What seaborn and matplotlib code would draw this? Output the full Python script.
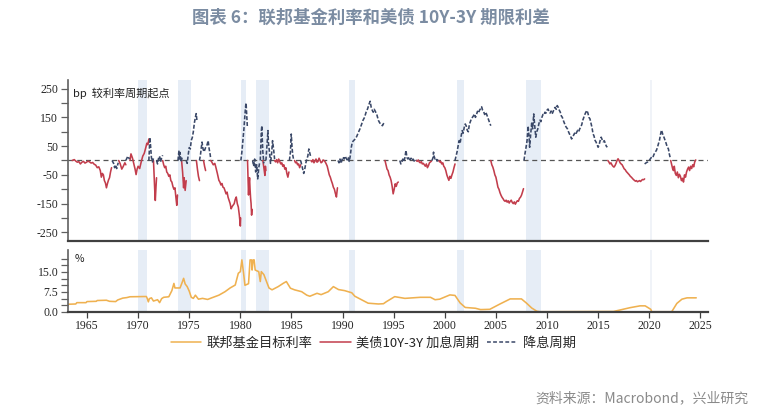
import pandas as pd
import matplotlib
matplotlib.use("Agg")
import matplotlib.pyplot as plt
from matplotlib.lines import Line2D
import seaborn as sns

# 美债10Y-3Y 利差, 相对每个利率周期起点 (bp); 每段为 (年份, bp)
hike_1963 = [(1963.55, 0), (1963.75, 3), (1963.9, -2), (1964.05, -6), (1964.2, -4), (1964.35, -12),
             (1964.5, -6), (1964.65, -3), (1964.8, -9), (1964.95, -6), (1965.1, -2), (1965.25, -5),
             (1965.4, -9), (1965.55, -7), (1965.7, -13), (1965.85, -16), (1966.0, -25), (1966.15, -22),
             (1966.3, -35), (1966.4, -58), (1966.5, -45), (1966.6, -50), (1966.7, -70), (1966.8, -78),
             (1966.9, -95), (1967.0, -80), (1967.1, -68), (1967.2, -60), (1967.3, -40), (1967.4, -25)]
hike_1968 = [(1968.1, 0), (1968.25, -12), (1968.4, -30), (1968.55, -20), (1968.7, -8), (1968.8, -15)]
hike_1969 = [(1969.2, 0), (1969.3, 23), (1969.45, 8), (1969.6, -15), (1969.7, -30), (1969.8, -49),
             (1969.9, -30), (1970.0, -20), (1970.15, -28), (1970.3, -5), (1970.45, 15), (1970.6, 25),
             (1970.75, 45), (1970.85, 60), (1970.95, 55), (1971.05, 75)]
hike_1971 = [(1971.5, 0), (1971.55, -40), (1971.62, -100), (1971.68, -139), (1971.75, -90), (1971.8, -60)]
hike_1972 = [(1972.4, 0), (1972.5, -15), (1972.6, -25), (1972.7, -20), (1972.8, -40), (1972.9, -45),
             (1973.0, -55), (1973.1, -50), (1973.2, -70), (1973.3, -75), (1973.4, -90), (1973.5, -100),
             (1973.6, -95), (1973.7, -130), (1973.78, -156), (1973.85, -120)]
hike_1974 = [(1974.25, 0), (1974.35, -40), (1974.45, -95), (1974.5, -60), (1974.6, -104), (1974.7, -70)]
hike_1975 = [(1975.7, 0), (1975.8, -30), (1975.9, -55), (1976.0, -70)]
hike_1976 = [(1976.4, 0), (1976.5, -20), (1976.6, -35)]
hike_1977 = [(1977.1, 0), (1977.2, -5), (1977.35, -15), (1977.5, -10), (1977.6, -23), (1977.75, -45),
             (1977.9, -69), (1978.0, -75), (1978.1, -85), (1978.2, -80), (1978.3, -93), (1978.4, -95),
             (1978.5, -105), (1978.6, -116), (1978.7, -110), (1978.8, -128), (1978.9, -139), (1979.0, -150),
             (1979.1, -168), (1979.2, -160), (1979.3, -155), (1979.4, -150), (1979.5, -135), (1979.6, -127),
             (1979.7, -150), (1979.8, -162), (1979.9, -190), (1980.0, -228), (1980.03, -200)]
hike_1980 = [(1980.7, 0), (1980.75, -60), (1980.8, -120), (1980.85, -80), (1980.9, -60), (1980.95, -100),
             (1981.0, -130), (1981.05, -150), (1981.1, -190), (1981.15, -170)]
hike_1982 = [(1982.2, 0), (1982.3, -25), (1982.4, -52), (1982.45, -20), (1982.5, -35)]
hike_1983 = [(1983.35, 0), (1983.45, -5), (1983.55, 3), (1983.65, -8), (1983.75, 5), (1983.85, -3),
             (1983.95, -12), (1984.05, -8), (1984.15, -20), (1984.25, -15), (1984.35, -30), (1984.45, -25),
             (1984.55, -45), (1984.65, -58), (1984.75, -40)]
hike_1985 = [(1985.3, 0), (1985.4, -8), (1985.5, -5), (1985.6, -15), (1985.7, -12), (1985.8, -25), (1985.9, -15)]
hike_1986 = [(1986.9, 0), (1987.0, -5), (1987.1, 3), (1987.2, -8), (1987.3, -2), (1987.4, 5), (1987.5, -6),
             (1987.6, -3), (1987.7, 8), (1987.8, 0), (1987.9, -8), (1988.0, -5), (1988.1, 2)]
hike_1988 = [(1988.2, 0), (1988.3, -5), (1988.4, -12), (1988.5, -20), (1988.6, -35), (1988.7, -50),
             (1988.8, -58), (1988.9, -70), (1989.0, -80), (1989.1, -93), (1989.2, -100), (1989.3, -115),
             (1989.4, -127), (1989.45, -110), (1989.5, -95)]
hike_1994 = [(1994.15, 0), (1994.25, -15), (1994.35, -30), (1994.45, -35), (1994.55, -50), (1994.65, -58),
             (1994.75, -70), (1994.85, -90), (1994.95, -116), (1995.05, -100), (1995.15, -81), (1995.25, -90),
             (1995.35, -78), (1995.45, -75)]
hike_1997 = [(1997.2, 0), (1997.3, -3), (1997.4, 2), (1997.5, -5), (1997.6, -8), (1997.7, -4), (1997.8, -12),
             (1997.9, -10), (1998.0, -15), (1998.1, -20), (1998.2, -12), (1998.3, -25), (1998.4, -18),
             (1998.5, -8), (1998.6, -5), (1998.7, -2)]
hike_1999 = [(1999.4, 0), (1999.5, -5), (1999.6, -3), (1999.7, -12), (1999.8, -8), (1999.9, -20),
             (2000.0, -25), (2000.1, -35), (2000.2, -50), (2000.3, -60), (2000.4, -69), (2000.5, -55),
             (2000.6, -62), (2000.7, -50), (2000.8, -40), (2000.9, -25), (2001.0, -12)]
hike_2004 = [(2004.5, 0), (2004.6, -15), (2004.7, -23), (2004.8, -35), (2004.9, -50), (2005.0, -58),
             (2005.1, -75), (2005.2, -93), (2005.3, -100), (2005.4, -112), (2005.5, -121), (2005.6, -128),
             (2005.7, -133), (2005.8, -139), (2005.9, -142), (2006.0, -138), (2006.1, -145), (2006.2, -140),
             (2006.3, -148), (2006.4, -142), (2006.5, -138), (2006.6, -146), (2006.7, -150), (2006.8, -144),
             (2006.9, -152), (2007.0, -145), (2007.1, -140), (2007.2, -142), (2007.3, -132), (2007.4, -128),
             (2007.5, -121), (2007.6, -110), (2007.7, -98)]
hike_2015 = [(2015.95, 0), (2016.05, -5), (2016.15, -12), (2016.25, -8), (2016.35, -15), (2016.45, -20),
             (2016.55, -23), (2016.65, -18), (2016.75, -10), (2016.85, 0), (2016.95, 6), (2017.05, 0),
             (2017.15, -8), (2017.25, -12), (2017.35, -15), (2017.45, -22), (2017.55, -29), (2017.65, -32),
             (2017.75, -38), (2017.85, -42), (2017.95, -46), (2018.05, -50), (2018.15, -55), (2018.25, -58),
             (2018.35, -62), (2018.45, -66), (2018.55, -69), (2018.65, -72), (2018.75, -70), (2018.85, -74),
             (2018.95, -72), (2019.05, -70), (2019.15, -73), (2019.25, -69), (2019.35, -66), (2019.45, -67),
             (2019.55, -64)]
hike_2022 = [(2022.1, 0), (2022.2, -15), (2022.3, -30), (2022.37, -35), (2022.45, -20), (2022.55, -45),
             (2022.65, -52), (2022.75, -40), (2022.85, -60), (2022.95, -48), (2023.05, -55), (2023.15, -70),
             (2023.25, -62), (2023.35, -75), (2023.45, -50), (2023.55, -58), (2023.65, -40), (2023.75, -30),
             (2023.85, -23), (2023.95, -35), (2024.05, -20), (2024.15, -28), (2024.25, -15), (2024.35, -22),
             (2024.45, -5), (2024.55, 2)]

cut_1967 = [(1967.45, 0), (1967.6, -10), (1967.7, -25), (1967.8, -15), (1967.9, -28), (1968.05, -8)]
cut_1968 = [(1968.8, 0), (1968.9, 8), (1969.0, 15), (1969.15, 5)]
cut_1971a = [(1971.05, 0), (1971.1, 40), (1971.15, 80), (1971.22, 50), (1971.3, 10), (1971.4, -5), (1971.5, 8)]
cut_1971b = [(1971.8, 0), (1971.9, -12), (1972.0, 8), (1972.1, 15), (1972.2, -5), (1972.3, 10), (1972.4, 18)]
cut_1973 = [(1973.9, 0), (1973.95, 20), (1974.0, 35), (1974.05, 5), (1974.1, 28), (1974.2, -5), (1974.3, 10)]
cut_1974 = [(1974.7, 0), (1974.8, -10), (1974.9, 20), (1975.0, 45), (1975.1, 40), (1975.2, 70), (1975.3, 80),
            (1975.4, 100), (1975.5, 130), (1975.6, 150), (1975.68, 163), (1975.75, 140)]
cut_1976 = [(1976.0, 0), (1976.1, 20), (1976.2, 50), (1976.25, 64), (1976.35, 40), (1976.45, 30), (1976.6, 45),
            (1976.75, 55), (1976.85, 69), (1976.95, 40), (1977.05, 20), (1977.1, 5)]
cut_1980 = [(1980.05, 0), (1980.15, 30), (1980.25, 70), (1980.35, 110), (1980.45, 160), (1980.52, 190),
            (1980.56, 200), (1980.62, 160), (1980.68, 120)]
cut_1981 = [(1981.2, 0), (1981.3, -20), (1981.4, 5), (1981.5, -40), (1981.6, -15), (1981.7, -64),
            (1981.8, -25), (1981.9, -5)]
cut_1982a = [(1981.95, 0), (1982.0, 50), (1982.05, 100), (1982.1, 121), (1982.15, 70), (1982.2, 30), (1982.3, -10)]
cut_1982b = [(1982.5, 0), (1982.6, 50), (1982.7, 104), (1982.75, 60), (1982.85, 30), (1982.95, -10),
             (1983.05, 20), (1983.15, 69), (1983.25, 40), (1983.35, 5)]
cut_1984 = [(1984.8, 0), (1984.9, 30), (1984.98, 92), (1985.05, 50), (1985.12, 20), (1985.2, 5), (1985.3, 8)]
cut_1985 = [(1985.9, 0), (1986.0, -15), (1986.1, -30), (1986.2, -45), (1986.3, -30), (1986.4, -10),
            (1986.5, 5), (1986.6, 15), (1986.7, 40), (1986.8, 25), (1986.9, 10)]
cut_1989 = [(1989.55, 0), (1989.65, -8), (1989.75, 5), (1989.85, -10), (1989.95, 3), (1990.05, 12),
            (1990.15, 5), (1990.25, 15), (1990.35, 8), (1990.45, 2), (1990.55, 10), (1990.65, -3),
            (1990.75, 15), (1990.85, 45), (1990.95, 64), (1991.1, 70), (1991.25, 75), (1991.4, 85),
            (1991.55, 98), (1991.7, 110), (1991.85, 125), (1992.0, 140), (1992.15, 150), (1992.3, 168),
            (1992.45, 180), (1992.6, 197), (1992.7, 206), (1992.8, 185), (1992.9, 175), (1993.0, 168),
            (1993.1, 178), (1993.2, 171), (1993.35, 160), (1993.5, 140), (1993.6, 133), (1993.75, 125),
            (1993.9, 121), (1994.0, 128), (1994.1, 133)]
cut_1995 = [(1995.6, 0), (1995.7, -12), (1995.8, -5), (1995.9, 5), (1996.0, -3), (1996.1, 10), (1996.2, 35),
            (1996.3, 10), (1996.4, 5), (1996.5, 12), (1996.6, 3), (1996.7, 8), (1996.8, 0), (1996.9, 5),
            (1997.0, -2), (1997.1, 3), (1997.2, 0)]
cut_1998 = [(1998.75, 0), (1998.85, 10), (1998.9, 29), (1998.95, 15), (1999.05, 5), (1999.15, 8),
            (1999.25, -2), (1999.35, 3)]
cut_2001 = [(2001.0, 0), (2001.1, 15), (2001.2, 30), (2001.3, 50), (2001.4, 69), (2001.5, 60), (2001.6, 85),
            (2001.7, 104), (2001.8, 95), (2001.9, 115), (2002.0, 127), (2002.1, 120), (2002.2, 105),
            (2002.3, 100), (2002.4, 125), (2002.5, 135), (2002.6, 145), (2002.7, 150), (2002.8, 155),
            (2002.9, 162), (2003.0, 150), (2003.1, 160), (2003.2, 171), (2003.3, 165), (2003.4, 175),
            (2003.5, 180), (2003.6, 187), (2003.7, 175), (2003.8, 170), (2003.9, 160), (2004.0, 168),
            (2004.1, 160), (2004.2, 150), (2004.3, 140), (2004.4, 130), (2004.5, 121)]
cut_2007 = [(2007.75, 0), (2007.85, 25), (2007.95, 46), (2008.05, 70), (2008.15, 120), (2008.25, 80),
            (2008.3, 46), (2008.4, 90), (2008.5, 130), (2008.6, 110), (2008.7, 162), (2008.8, 120),
            (2008.9, 81), (2009.0, 100), (2009.1, 110), (2009.2, 127), (2009.3, 140), (2009.4, 135),
            (2009.5, 150), (2009.6, 160), (2009.7, 158), (2009.8, 168), (2009.9, 165), (2010.0, 175),
            (2010.1, 179), (2010.2, 170), (2010.3, 165), (2010.4, 172), (2010.5, 162), (2010.6, 170),
            (2010.7, 180), (2010.8, 185), (2010.9, 178), (2011.0, 191), (2011.1, 185), (2011.2, 175),
            (2011.3, 168), (2011.4, 155), (2011.5, 150), (2011.6, 139), (2011.7, 130), (2011.8, 120),
            (2011.9, 115), (2012.0, 110), (2012.1, 100), (2012.2, 92), (2012.3, 85), (2012.4, 75),
            (2012.5, 80), (2012.6, 88), (2012.7, 95), (2012.8, 90), (2012.9, 98), (2013.0, 105),
            (2013.1, 100), (2013.2, 110), (2013.3, 116), (2013.4, 125), (2013.5, 140), (2013.6, 150),
            (2013.7, 160), (2013.8, 168), (2013.9, 174), (2014.0, 165), (2014.1, 150), (2014.2, 145),
            (2014.3, 130), (2014.4, 115), (2014.5, 93), (2014.6, 85), (2014.7, 70), (2014.8, 64),
            (2014.9, 55), (2015.0, 46), (2015.1, 55), (2015.2, 70), (2015.3, 81), (2015.4, 72),
            (2015.5, 65), (2015.6, 69), (2015.7, 60), (2015.8, 50), (2015.9, 46)]
cut_2019 = [(2019.55, -12), (2019.7, -8), (2019.85, -5), (2020.0, 0), (2020.15, 8), (2020.25, 12),
            (2020.35, 10), (2020.45, 20), (2020.58, 29), (2020.7, 35), (2020.8, 45), (2020.9, 58),
            (2021.0, 70), (2021.1, 90), (2021.2, 106), (2021.25, 100), (2021.35, 88), (2021.45, 80),
            (2021.56, 69), (2021.65, 60), (2021.75, 48), (2021.88, 40), (2021.95, 25), (2022.05, 10),
            (2022.1, 6)]

hike_segments = [hike_1963, hike_1968, hike_1969, hike_1971, hike_1972, hike_1974, hike_1975, hike_1976,
                 hike_1977, hike_1980, hike_1982, hike_1983, hike_1985, hike_1986, hike_1988, hike_1994,
                 hike_1997, hike_1999, hike_2004, hike_2015, hike_2022]
cut_segments = [cut_1967, cut_1968, cut_1971a, cut_1971b, cut_1973, cut_1974, cut_1976, cut_1980, cut_1981,
                cut_1982a, cut_1982b, cut_1984, cut_1985, cut_1989, cut_1995, cut_1998, cut_2001, cut_2007,
                cut_2019]

# 联邦基金目标利率 (%)
ff_year = [1963.14, 1963.9, 1964.0, 1964.9, 1965.0, 1965.9, 1966.0, 1966.9, 1967.2, 1967.8, 1968.0, 1968.5,
           1968.9, 1969.2, 1970.8, 1970.9, 1971.0, 1971.1, 1971.3, 1971.5, 1971.9, 1972.1, 1972.3, 1972.5,
           1973.0, 1973.3, 1973.5, 1973.6, 1974.1, 1974.3, 1974.45, 1974.6, 1974.8, 1975.0, 1975.2, 1975.4,
           1975.6, 1975.9, 1976.3, 1976.8, 1977.2, 1977.9, 1978.5, 1979.0, 1979.5, 1979.8, 1980.0, 1980.15,
           1980.3, 1980.45, 1980.8, 1980.95, 1981.1, 1981.15, 1981.25, 1981.35, 1981.45, 1981.8, 1981.95,
           1982.05, 1982.3, 1982.5, 1982.8, 1983.1, 1983.7, 1984.2, 1984.5, 1984.9, 1985.3, 1986.0, 1986.5,
           1986.8, 1987.5, 1987.9, 1988.6, 1989.1, 1989.6, 1990.2, 1990.9, 1991.2, 1991.9, 1992.5, 1993.5,
           1994.0, 1994.3, 1995.1, 1996.1, 1997.6, 1998.6, 1999.05, 1999.5, 2000.5, 2001.0, 2001.5, 2002.0,
           2003.0, 2003.5, 2004.4, 2005.4, 2006.4, 2007.5, 2008.0, 2008.5, 2009.0, 2009.3, 2016.5, 2017.2,
           2018.1, 2019.1, 2019.6, 2019.9, 2020.15, 2020.25, 2022.2, 2022.7, 2023.2, 2023.7, 2024.6]
ff_rate = [2.9, 3.0, 3.5, 3.5, 3.9, 4.0, 4.3, 4.4, 4.0, 3.9, 4.5, 5.2,
           5.4, 5.7, 5.8, 5.0, 3.8, 5.0, 5.3, 4.1, 4.6, 3.5, 5.0, 5.5,
           5.7, 8.0, 10.7, 9.0, 9.0, 11.0, 12.6, 10.5, 9.5, 7.8, 5.5, 5.1,
           6.3, 4.8, 5.1, 4.7, 5.3, 6.3, 7.6, 9.0, 10.1, 14.5, 15.1, 19.5,
           15.0, 10.0, 10.6, 19.5, 19.5, 15.7, 19.5, 19.5, 15.7, 15.1, 11.4,
           15.1, 14.0, 12.0, 9.0, 8.3, 9.5, 10.75, 11.4, 8.9, 8.3, 7.6, 6.3,
           5.9, 7.0, 6.5, 7.6, 9.5, 8.4, 8.0, 7.2, 5.9, 4.5, 3.3, 3.0,
           3.1, 3.9, 5.75, 5.1, 5.5, 5.5, 4.6, 4.8, 6.4, 6.2, 3.4, 1.7,
           1.4, 0.9, 1.0, 3.0, 4.9, 4.9, 3.3, 1.5, 0.3, 0.1, 0.2, 0.8,
           1.6, 2.3, 2.3, 1.6, 1.0, 0.1, 0.1, 3.2, 4.8, 5.3, 5.3]

# 衰退期阴影
recessions = [(1969.95, 1970.9), (1973.9, 1975.2), (1980.05, 1980.55), (1981.55, 1982.85),
              (1990.6, 1991.2), (2001.2, 2001.85), (2007.9, 2009.45)]
recession_2020 = (2020.12, 2020.28)

label_ff = "联邦基金目标利率"
label_hike = "美债10Y-3Y 加息周期"
label_cut = "降息周期"

sns.set_theme(style="white")
plt.rcParams["font.family"] = ["Noto Sans CJK SC", "DejaVu Sans"]
plt.rcParams["axes.unicode_minus"] = False

rows = []
for i, seg in enumerate(hike_segments):
    for yr, bp in seg:
        rows.append({"year": yr, "bp": bp, "seg": f"h{i}", "kind": label_hike})
for i, seg in enumerate(cut_segments):
    for yr, bp in seg:
        rows.append({"year": yr, "bp": bp, "seg": f"c{i}", "kind": label_cut})
df = pd.DataFrame(rows)

red = "#c23d4c"
navy = "#3a4868"
orange = "#efb150"
shade = "#e6edf6"
axis_col = "#404040"
num_font = "Liberation Serif"

fig = plt.figure(figsize=(7.65, 4.16), dpi=100)
ax1 = fig.add_axes([0.0889, 0.4207, 0.8366, 0.387])
ax2 = fig.add_axes([0.0889, 0.25, 0.8366, 0.149])

xmin, xmax = 1963.14, 2025.75
for ax in (ax1, ax2):
    for a, b in recessions:
        ax.axvspan(a, b, color=shade, lw=0, zorder=0)
    ax.axvspan(*recession_2020, color="#f0f3f8", lw=0, zorder=0)
    ax.set_xlim(xmin, xmax)
    for s in ("top", "right"):
        ax.spines[s].set_visible(False)
    ax.spines["left"].set_color("#606060")
    ax.spines["left"].set_linewidth(1.2)
    ax.spines["bottom"].set_color(axis_col)
    ax.spines["bottom"].set_linewidth(1.6)

# 上图: 利差
ax1.axhline(0, color="#555555", lw=0.9, ls=(0, (4, 3)), zorder=1)
sns.lineplot(data=df, x="year", y="bp", units="seg", estimator=None, hue="kind", style="kind",
             palette={label_hike: red, label_cut: navy},
             dashes={label_hike: "", label_cut: (2.5, 1.2)},
             lw=1.15, sort=False, legend=False, ax=ax1, zorder=2)
ax1.set_ylim(-280, 280)
ax1.set_yticks(range(-250, 251, 50))
ax1.set_yticklabels([str(v) if v % 100 != 0 else "" for v in range(-250, 251, 50)])
ax1.set_xticks([])
ax1.set_xlabel("")
ax1.set_ylabel("")
ax1.tick_params(axis="y", left=True, length=5, width=0.9, color="#606060", pad=2, labelsize=8.5)
for t in ax1.get_yticklabels():
    t.set_fontfamily(num_font)
ax1.text(0.008, 0.955, "bp  较利率周期起点", transform=ax1.transAxes, fontsize=8, va="top",
         ha="left", color="#222222")

# 下图: 联邦基金目标利率
sns.lineplot(x=ff_year, y=ff_rate, color=orange, lw=1.15, ax=ax2, zorder=2)
ax2.set_ylim(0, 23.2)
ax2.set_yticks([v * 2.5 for v in range(9)])
ax2.set_yticklabels(["0.0", "", "", "7.5", "", "", "15.0", "", ""])
ax2.set_xticks(range(1965, 2026, 5))
ax2.tick_params(axis="y", left=True, length=5, width=0.9, color="#606060", pad=2, labelsize=8.5)
ax2.tick_params(axis="x", bottom=True, length=4, width=0.9, color=axis_col, pad=2, labelsize=8.5)
for t in ax2.get_yticklabels() + ax2.get_xticklabels():
    t.set_fontfamily(num_font)
ax2.text(0.01, 0.93, "%", transform=ax2.transAxes, fontsize=7.5, va="top", ha="left", color="#222222")

handles = [Line2D([], [], color=orange, lw=1.1),
           Line2D([], [], color=red, lw=1.1),
           Line2D([], [], color=navy, lw=1.1, ls=(0, (2.5, 1.5)))]
fig.legend(handles, [label_ff, label_hike, label_cut], loc="center", bbox_to_anchor=(0.488, 0.175),
           ncol=3, frameon=False, fontsize=9.5, handlelength=2.3, columnspacing=0.6, handletextpad=0.4)

fig.text(0.485, 0.958, "图表 6：联邦基金利率和美债 10Y-3Y 期限利差", ha="center", va="center",
         fontsize=12.5, fontweight="bold", color="#7b8ca2")
fig.text(0.978, 0.043, "资料来源：Macrobond，兴业研究", ha="right", va="center", fontsize=10,
         color="#8a8a8a")

fig.savefig("out.png", dpi=100)
